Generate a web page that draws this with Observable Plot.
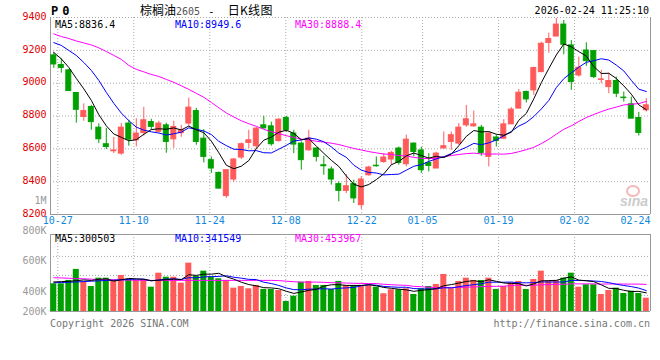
<!DOCTYPE html>
<html><head><meta charset="utf-8">
<script src="https://cdn.jsdelivr.net/npm/d3@7"></script>
<script src="https://cdn.jsdelivr.net/npm/@observablehq/plot@0.6"></script>
<style>
body{margin:0;background:#fff;}
#wrap{position:relative;width:660px;height:360px;overflow:hidden;font-family:"DejaVu Sans Mono",monospace;}
#wrap svg{position:absolute;left:0;top:0;}
.t{position:absolute;white-space:nowrap;font-size:10px;line-height:10px;}
</style></head><body><div id="wrap"></div>
<script>
// ---------- data ----------
const dates = ["10-24","10-27","10-28","10-29","10-30","10-31","11-03","11-04","11-05","11-06","11-07",
"11-10","11-11","11-12","11-13","11-14","11-17","11-18","11-19","11-20","11-21",
"11-24","11-25","11-26","11-27","11-28","12-01","12-02","12-03","12-04","12-05",
"12-08","12-09","12-10","12-11","12-12","12-15","12-16","12-17","12-18","12-19",
"12-22","12-23","12-24","12-25","12-26","12-29","12-30","12-31",
"01-05","01-06","01-07","01-08","01-09","01-12","01-13","01-14","01-15","01-16",
"01-19","01-20","01-21","01-22","01-23","01-26","01-27","01-28","01-29","01-30",
"02-02","02-03","02-04","02-05","02-06","02-09","02-10","02-11","02-12","02-13","02-24"];
const open  = [9169,9111,9078,8940,8794,8855,8729,8628,8585,8571,8754,8652,8697,8763,8704,8743,8658,8695,8754,8830,
8662,8531,8453,8312,8413,8547,8636,8616,8743,8737,8648,8788,8693,8632,8591,8602,8500,8474,8385,8344,
8385,8257,8439,8497,8520,8535,8602,8506,8632,8590,8514,8480,8602,8642,8632,8743,8737,8729,8551,8669,
8662,8749,8845,8946,8956,9067,9245,9284,9357,9230,9047,9199,9195,9020,8976,9013,8912,8871,8788,8835];
const high  = [9187,9149,9084,8944,8874,8865,8752,8725,8669,8754,8774,8784,8853,8780,8768,8756,8768,8743,8909,8847,
8717,8551,8459,8470,8541,8636,8713,8731,8798,8762,8784,8798,8713,8642,8713,8605,8555,8490,8399,8444,
8409,8429,8494,8551,8571,8585,8611,8683,8636,8610,8571,8579,8703,8703,8754,8865,8830,8743,8703,8683,
8778,8851,8962,8952,9098,9250,9305,9394,9382,9260,9159,9246,9199,9078,9061,9037,8946,8915,8822,8906];
const low   = [9090,9061,8950,8756,8768,8713,8632,8596,8571,8561,8616,8611,8677,8713,8695,8573,8603,8670,8737,8622,
8514,8450,8354,8298,8397,8535,8602,8596,8719,8616,8640,8701,8571,8470,8585,8520,8439,8379,8277,8328,
8267,8231,8433,8488,8511,8500,8500,8490,8551,8450,8459,8480,8602,8591,8622,8731,8731,8555,8490,8611,
8656,8749,8845,8879,8926,9066,9183,9284,9173,8956,9037,9102,9027,8997,8936,8912,8885,8784,8678,8824];
const close = [9114,9093,8952,8838,8830,8763,8658,8611,8590,8729,8656,8693,8774,8734,8754,8642,8733,8713,8851,8642,
8551,8480,8358,8470,8535,8628,8652,8723,8725,8628,8778,8713,8626,8531,8662,8551,8494,8413,8344,8372,
8298,8413,8486,8494,8547,8575,8514,8656,8581,8470,8496,8571,8616,8683,8729,8780,8749,8575,8693,8648,
8749,8839,8942,8901,9092,9240,9269,9357,9234,9007,9094,9134,9037,9023,9013,8936,8909,8784,8697,8865];
const volume = [450000,450000,504000,683000,476000,406000,541000,541000,504000,585000,515000,504000,504000,395000,622000,557000,557000,460000,785000,574000,
655000,557000,531000,504000,379000,406000,369000,423000,358000,358000,341000,163000,249000,476000,488000,423000,423000,358000,488000,423000,
423000,423000,423000,395000,288000,353000,353000,369000,276000,369000,406000,439000,601000,369000,488000,541000,504000,504000,541000,358000,
406000,466000,488000,358000,520000,655000,488000,504000,541000,622000,395000,434000,434000,276000,341000,379000,293000,330000,293000,216000];
// moving-average values before a full window exists
const ma5Lead  = [9187,9148,9096,9029];
const ma10Lead = [9247,9230,9199,9169,9126,9078,9017,8944,8877];
const ma30Lead = [9300,9284,9272,9257,9245,9233,9215,9193,9169,9145,9108,9084,9069,9053,9041,9023,9005,8984,8962,8938,8914,8883,8850,8819,8794,8771,8753,8737,8719];
const vma5Lead  = [480000,485000,490000,500000];
const vma10Lead = [466000,470000,475000,480000,486000,492000,498000,504000,508000];
const vma30Lead = [548000,545000,540000,535000,531000,525000,520000,517000,515000,512000,510000,508000,506000,505000,505000,505000,505000,505000,505000,505000,505000,505000,505000,505000,505000,505000,505000,505000,505000];
const tickDates = ["10-27","11-10","11-24","12-08","12-22","01-05","01-19","02-02","02-24"];
const priceTicks = [8200,8400,8600,8800,9000,9200,9400];
const maNames = ["MA5","MA10","MA30"];
const priceMA = ["8836.4","8949.6","8888.4"];
const volMA = ["300503","341549","453967"];
const volAxis = [{label:"1M",v:1804000},{label:"800K",v:1316000},{label:"600K",v:829000},{label:"400K",v:325000},{label:"200K",v:0}];
const volGrid = [893750,585000,260000];
const titleParts = ["棕榈油","2605","-","日K线图"];
const symbol = "P0";
const stamp = "2026-02-24 11:25:10";

// ---------- build ----------
const UP = "#ff5a5a", DOWN = "#00a000";
const maColors = ["#000000","#0000ff","#ff00ff"];
function movAvg(vals, n, lead){ return vals.map((v,i)=> i < n-1 ? lead[i] : d3.mean(vals.slice(i-n+1,i+1))); }
const ma5 = movAvg(close,5,ma5Lead), ma10 = movAvg(close,10,ma10Lead), ma30 = movAvg(close,30,ma30Lead);
const vma5 = movAvg(volume,5,vma5Lead), vma10 = movAvg(volume,10,vma10Lead), vma30 = movAvg(volume,30,vma30Lead);
const rows = dates.map((d,i)=>({i,d,o:open[i],h:high[i],l:low[i],c:close[i],v:volume[i],
  up: close[i] >= open[i], ma5:ma5[i], ma10:ma10[i], ma30:ma30[i], vma5:vma5[i], vma10:vma10[i], vma30:vma30[i]}));
const col = d => d.up ? UP : DOWN;
const xDomain = [-0.44, dates.length - 0.44];
const gx = i => i + 0.0133*(i-1) - 0.467; // Sina grid drift
const tickIdx = tickDates.map(t => dates.indexOf(t));
const innerTicks = tickIdx.slice(0,-1);
const lastTick = tickIdx[tickIdx.length-1];
const grid = {stroke:"#aaaaaa", strokeDasharray:"1,2", strokeWidth:1};
const frameS = {stroke:"#999999", strokeWidth:1};
const base = {width:660, height:360, marginLeft:50, marginRight:10,
  style:{background:"transparent", overflow:"visible", fontFamily:"DejaVu Sans Mono", fontSize:"10px"},
  x:{type:"linear", domain:xDomain, axis:null}, color:{type:"identity"}};

const pricePlot = Plot.plot({...base, marginTop:17, marginBottom:146,
  y:{domain:[8200,9400], axis:null},
  marks:[
    Plot.ruleY(priceTicks.filter(t=>t>8200), grid),
    Plot.ruleX(innerTicks.map(gx), grid),
    Plot.ruleY([8200], frameS),
    Plot.ruleX(xDomain, frameS),
    Plot.ruleX(rows, {x:"i", y1:"l", y2:"h", stroke:col, strokeWidth:1}),
    Plot.rect(rows, {x1:d=>d.i-0.33, x2:d=>d.i+0.33, y1:"o", y2:"c", fill:col, stroke:col, strokeWidth:1}),
    Plot.line(rows, {x:"i", y:"ma30", stroke:maColors[2], strokeWidth:1}),
    Plot.line(rows, {x:"i", y:"ma10", stroke:maColors[1], strokeWidth:1}),
    Plot.line(rows, {x:"i", y:"ma5", stroke:maColors[0], strokeWidth:1}),
    Plot.text(priceTicks, {y:d=>d, text:d=>String(d), frameAnchor:"left", textAnchor:"end", dx:-4, dy:-1, fill:"#e00000", fontSize:10}),
    Plot.text(innerTicks, {x:gx, text:i=>dates[i], frameAnchor:"bottom", lineAnchor:"top", dy:2, fill:"#1188dd", fontSize:10}),
    Plot.text([lastTick], {x:()=>xDomain[1], text:i=>dates[i], frameAnchor:"bottom", lineAnchor:"top", textAnchor:"end", dy:2, fill:"#1188dd", fontSize:10})
  ]});

const volTop = 1250000;
const volPlot = Plot.plot({...base, marginTop:234, marginBottom:49,
  y:{domain:[0,volTop], axis:null},
  marks:[
    Plot.ruleY(volGrid, grid),
    Plot.ruleX(innerTicks.map(gx), grid),
    Plot.ruleY([0, volTop], frameS),
    Plot.ruleX(xDomain, frameS),
    Plot.rect(rows, {x1:d=>d.i-0.4, x2:d=>d.i+0.4, y1:0, y2:"v", fill:col}),
    Plot.line(rows, {x:"i", y:"vma30", stroke:maColors[2], strokeWidth:1}),
    Plot.line(rows, {x:"i", y:"vma10", stroke:maColors[1], strokeWidth:1}),
    Plot.line(rows, {x:"i", y:"vma5", stroke:maColors[0], strokeWidth:1}),
    Plot.text(volAxis, {y:"v", text:"label", frameAnchor:"left", textAnchor:"end", dx:-4, fill:"#999999", fontSize:10})
  ]});

const wrap = document.getElementById("wrap");
wrap.appendChild(pricePlot);
wrap.appendChild(volPlot);

function addText(txt, css){ const e=document.createElement("div"); e.className="t"; e.textContent=txt; Object.assign(e.style, css); wrap.appendChild(e); return e; }
// header
addText(symbol, {left:"51px", top:"5px", fontSize:"12px", lineHeight:"12px", fontWeight:"bold", letterSpacing:"4px", color:"#000"});
const title = document.createElement("div"); title.className="t";
Object.assign(title.style,{left:"140px", top:"3px", fontSize:"12px", lineHeight:"13px", fontFamily:"'Noto Sans CJK SC',sans-serif", color:"#000"});
titleParts.forEach((p,k)=>{ const s=document.createElement("span"); s.textContent=p;
  if(k===1){ s.style.fontFamily="'DejaVu Sans Mono',monospace"; s.style.fontSize="10px"; s.style.color="#555"; }
  if(k===2){ s.style.fontFamily="'DejaVu Sans Mono',monospace"; s.style.fontSize="11px"; s.style.margin="0 13px 0 8px"; }
  if(k===3){ s.style.letterSpacing="0.3px"; }
  title.appendChild(s); });
wrap.appendChild(title);
addText(stamp, {right:"11px", top:"6px", color:"#000"});
// MA legends
const legX = [55,175,295];
maNames.forEach((n,k)=>{
  addText(n+":"+priceMA[k], {left:legX[k]+"px", top:"19.5px", color:maColors[k]});
  addText(n+":"+volMA[k], {left:legX[k]+"px", top:"234px", color:maColors[k]});
});
// footer
addText("Copyright 2026 SINA.COM", {left:"50px", top:"319px", color:"#777"});
addText("http://finance.sina.com.cn", {right:"10px", top:"319px", color:"#777"});
// watermark
addText("sina", {left:"620px", top:"194px", fontSize:"14px", lineHeight:"14px", fontFamily:"'Liberation Sans',sans-serif", fontStyle:"italic", fontWeight:"bold", color:"#cccccc"});
const eye = document.createElement("div");
Object.assign(eye.style,{position:"absolute", left:"626px", top:"185px", width:"10px", height:"8px", borderRadius:"50%", border:"2px solid #f5b8b8"});
wrap.appendChild(eye);
</script></body></html>
